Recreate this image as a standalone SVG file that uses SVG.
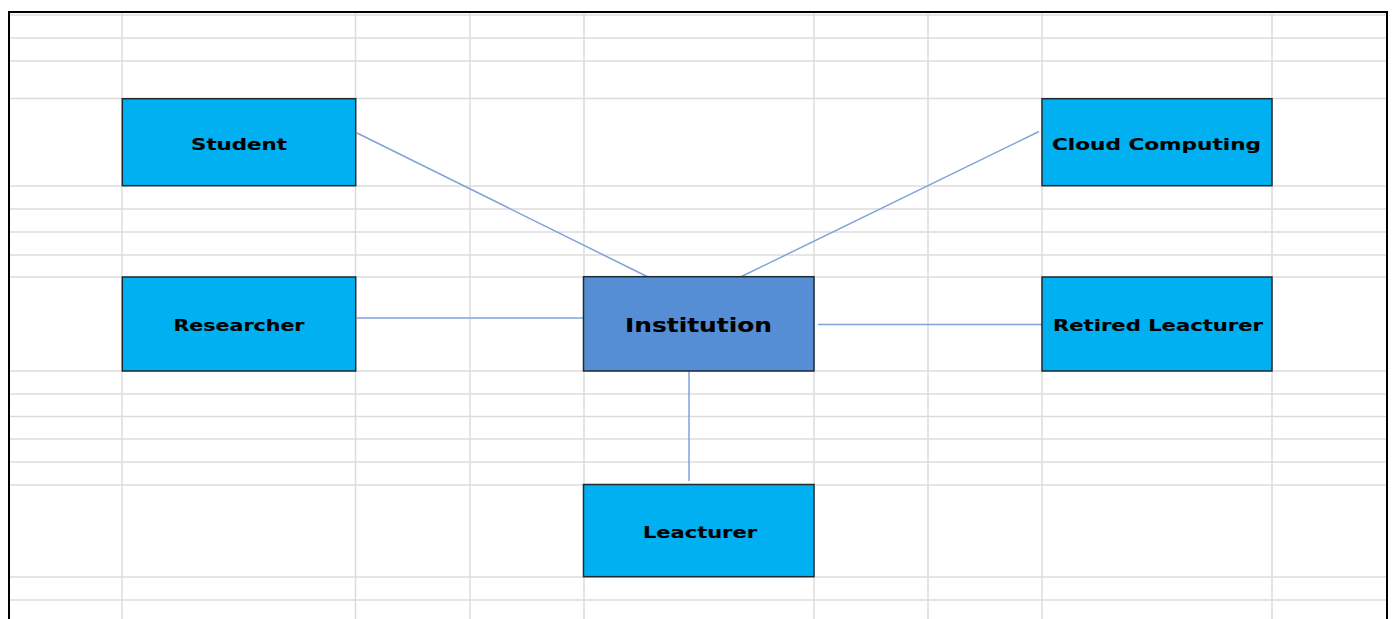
<svg xmlns="http://www.w3.org/2000/svg" width="1395" height="619" viewBox="0 0 1395 619">
<style>
.grid line{stroke:#dcdcdc;stroke-width:1.5}
.node rect{stroke:#1f2a33;stroke-width:1.5}
.lt{fill:#00b0f0}
.dk{fill:#558ed5}
.lbl{font-family:"DejaVu Sans","Verdana",sans-serif;font-weight:bold;font-size:16px;fill:#000;stroke:#000;stroke-width:0.12}
.big{font-size:20px}
.conn line{stroke:#7ea3d6;stroke-width:1.5}
</style>
<rect x="0" y="0" width="1395" height="619" fill="#fff"/>
<g class="grid">
<line x1="10" y1="15" x2="1386" y2="15"/>
<line x1="10" y1="38" x2="1386" y2="38"/>
<line x1="10" y1="61" x2="1386" y2="61"/>
<line x1="10" y1="98.5" x2="1386" y2="98.5"/>
<line x1="10" y1="186" x2="1386" y2="186"/>
<line x1="10" y1="209" x2="1386" y2="209"/>
<line x1="10" y1="232" x2="1386" y2="232"/>
<line x1="10" y1="255" x2="1386" y2="255"/>
<line x1="10" y1="277" x2="1386" y2="277"/>
<line x1="10" y1="371" x2="1386" y2="371"/>
<line x1="10" y1="394" x2="1386" y2="394"/>
<line x1="10" y1="416.5" x2="1386" y2="416.5"/>
<line x1="10" y1="439" x2="1386" y2="439"/>
<line x1="10" y1="462" x2="1386" y2="462"/>
<line x1="10" y1="485" x2="1386" y2="485"/>
<line x1="10" y1="577" x2="1386" y2="577"/>
<line x1="10" y1="600" x2="1386" y2="600"/>
<line x1="122" y1="13" x2="122" y2="619"/>
<line x1="355.5" y1="13" x2="355.5" y2="619"/>
<line x1="470" y1="13" x2="470" y2="619"/>
<line x1="584" y1="13" x2="584" y2="619"/>
<line x1="814" y1="13" x2="814" y2="619"/>
<line x1="928" y1="13" x2="928" y2="619"/>
<line x1="1042" y1="13" x2="1042" y2="619"/>
<line x1="1272" y1="13" x2="1272" y2="619"/>
</g>
<path d="M9,619 V12 H1387 V619" fill="none" stroke="#000" stroke-width="2"/>
<g class="conn">
<line x1="357" y1="133" x2="648" y2="277"/>
<line x1="1039" y1="131.5" x2="741.5" y2="276.5"/>
<line x1="357" y1="318" x2="583" y2="318"/>
<line x1="818" y1="324.5" x2="1042" y2="324.5"/>
<line x1="689" y1="371" x2="689" y2="481"/>
</g>
<g id="student" class="node">
<rect class="lt" x="122.3" y="98.7" width="233.4" height="87"/>
<text class="lbl" x="191" y="150" textLength="96" lengthAdjust="spacingAndGlyphs">Student</text>
</g>
<g id="cloud" class="node">
<rect class="lt" x="1042" y="98.7" width="230" height="87"/>
<text class="lbl" x="1052" y="149.5" textLength="209" lengthAdjust="spacingAndGlyphs">Cloud Computing</text>
</g>
<g id="researcher" class="node">
<rect class="lt" x="122.3" y="277" width="233.4" height="94"/>
<text class="lbl" x="173.5" y="331" textLength="131" lengthAdjust="spacingAndGlyphs">Researcher</text>
</g>
<g id="institution" class="node">
<rect class="dk" x="583.5" y="276.7" width="230.5" height="94.3"/>
<text class="lbl big" x="625" y="331.5" textLength="147" lengthAdjust="spacingAndGlyphs">Institution</text>
</g>
<g id="retired" class="node">
<rect class="lt" x="1042" y="277" width="230" height="94"/>
<text class="lbl" x="1053" y="331" textLength="210" lengthAdjust="spacingAndGlyphs">Retired Leacturer</text>
</g>
<g id="leacturer" class="node">
<rect class="lt" x="583.5" y="484.5" width="230.5" height="92.2"/>
<text class="lbl" x="643" y="537.5" textLength="114" lengthAdjust="spacingAndGlyphs">Leacturer</text>
</g>
</svg>
